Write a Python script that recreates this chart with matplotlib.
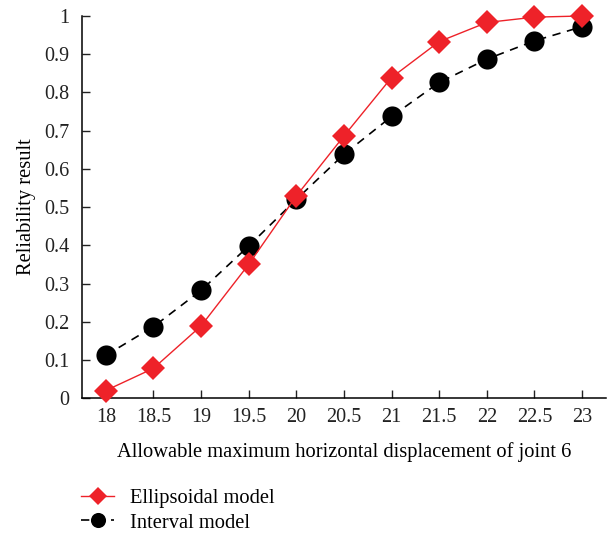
import matplotlib
matplotlib.use("Agg")
import matplotlib.pyplot as plt

x = [18, 18.5, 19, 19.5, 20, 20.5, 21, 21.5, 22, 22.5, 23]
ellipsoidal = [0.020, 0.078, 0.189, 0.350, 0.529, 0.686, 0.839, 0.933, 0.983, 0.997, 1.000]
interval = [0.112, 0.187, 0.282, 0.398, 0.520, 0.638, 0.737, 0.826, 0.887, 0.935, 0.972]
xticks = [18, 18.5, 19, 19.5, 20, 20.5, 21, 21.5, 22, 22.5, 23]
xticklabels = ["18", "18.5", "19", "19.5", "20", "20.5", "21", "21.5", "22", "22.5", "23"]
yticks = [0, 0.1, 0.2, 0.3, 0.4, 0.5, 0.6, 0.7, 0.8, 0.9, 1.0]
yticklabels = ["0", "0.1", "0.2", "0.3", "0.4", "0.5", "0.6", "0.7", "0.8", "0.9", "1"]

plt.rcParams['font.family'] = ['Liberation Serif', 'DejaVu Serif']

fig = plt.figure(figsize=(6.12, 5.33), dpi=100)
ax = fig.add_axes([0.134, 0.253, 0.856, 0.717])

l1, = ax.plot(x, ellipsoidal, color='#ee2229', lw=1.0, marker='D', markersize=12.5,
              markeredgewidth=0, label='Ellipsoidal model', zorder=3, clip_on=False)
l2, = ax.plot(x, interval, color='black', lw=1.2, ls=(0, (5, 4)), marker='o', markersize=14.5,
              markeredgewidth=0, label='Interval model', zorder=2, clip_on=False)

ax.set_xlim(17.75, 23.25)
ax.set_ylim(0, 1)
ax.set_xticks(xticks)
ax.set_xticklabels(xticklabels)
ax.set_yticks(yticks)
ax.set_yticklabels(yticklabels)
ax.tick_params(direction='in', length=6, width=1, labelsize=14.5, colors='#222222')
ax.tick_params(axis='y', pad=9)
ax.tick_params(axis='x', pad=7)
ax.spines['top'].set_visible(False)
ax.spines['right'].set_visible(False)
for s in ['left', 'bottom']:
    ax.spines[s].set_linewidth(1.1)

ax.set_xlabel('Allowable maximum horizontal displacement of joint 6', fontsize=14.8, labelpad=11)
ax.set_ylabel('Reliability result', fontsize=14.8, labelpad=6)

fig.legend(handles=[l1, l2], loc='upper left', bbox_to_anchor=(0.133, 0.083), frameon=False,
           fontsize=14.8, handlelength=1.6, handletextpad=0.75, labelspacing=0.25,
           markerscale=0.75, borderaxespad=0, borderpad=0)

fig.savefig('out.png', dpi=100)
